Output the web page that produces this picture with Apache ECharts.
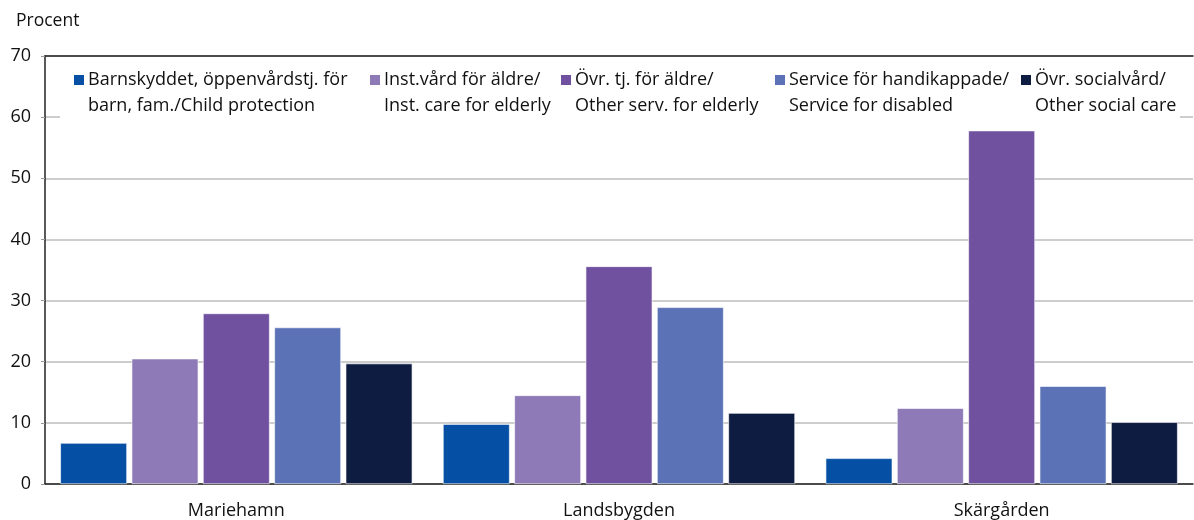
<!DOCTYPE html>
<html>
<head>
<meta charset="utf-8">
<script src="https://cdn.jsdelivr.net/npm/echarts@6/dist/echarts.min.js"></script>
<style>
  html, body { margin: 0; padding: 0; background: #fff; }
  #chart { width: 1194px; height: 520px; }
</style>
</head>
<body>
<div id="chart"></div>
<script>
  // data
  const categories = ['Mariehamn', 'Landsbygden', 'Skärgården']
  const seriesNames = [
    'Barnskyddet, öppenvårdstj. för\nbarn, fam./Child protection',
    'Inst.vård för äldre/\nInst. care for elderly',
    'Övr. tj. för äldre/\nOther serv. for elderly',
    'Service för handikappade/\nService for disabled',
    'Övr. socialvård/\nOther social care'
  ]
  const childProtection = [6.7, 9.8, 4.2]
  const instCareElderly = [20.5, 14.5, 12.4]
  const otherServElderly = [27.9, 35.6, 57.8]
  const serviceDisabled = [25.6, 28.9, 16.0]
  const otherSocialCare = [19.7, 11.6, 10.1]
  const yTicks = [0, 10, 20, 30, 40, 50, 60, 70]

  const values = [childProtection, instCareElderly, otherServElderly, serviceDisabled, otherSocialCare]
  const colors = ['#054FA4', '#8E7AB6', '#7051A0', '#5B73B6', '#0F1C41']
  const legendLeft = [72, 368, 559, 773, 1019]
  const font = '"Open Sans", sans-serif'

  const chart = echarts.init(document.getElementById('chart'))

  const series = values.map((data, i) => ({
    name: seriesNames[i],
    type: 'bar',
    data: data,
    barGap: '7%',
    barCategoryGap: '8%',
    itemStyle: { color: colors[i], borderColor: '#fff', borderWidth: 0.6 }
  }))

  // empty first line so the icon sits level with the first text line
  const legends = seriesNames.map((name, i) => ({
    data: [name],
    left: legendLeft[i],
    top: 41,
    padding: 0,
    z: 10,
    icon: 'rect',
    itemWidth: 12,
    itemHeight: 12,
    selectedMode: false,
    formatter: n => '\n' + n,
    textStyle: {
      fontFamily: font,
      fontSize: 18,
      color: '#111',
      lineHeight: 26,
      padding: [0, 0, 0, -2]
    }
  }))

  chart.setOption({
    animation: false,
    title: {
      text: 'Procent',
      left: 11,
      top: 7,
      textStyle: { fontFamily: font, fontSize: 17.5, fontWeight: 'normal', color: '#111' }
    },
    legend: legends,
    graphic: [{
      type: 'rect',
      z: 5,
      shape: { x: 60, y: 61, width: 1120, height: 61 },
      style: { fill: '#fff' }
    }],
    grid: { left: 45, right: 1, top: 56, bottom: 35 },
    xAxis: [{
      type: 'category',
      data: categories,
      axisLine: { lineStyle: { color: '#222', width: 1.5 } },
      axisTick: { show: false },
      axisLabel: { fontFamily: font, fontSize: 18, color: '#111', margin: 18 }
    }, {
      type: 'category',
      position: 'top',
      data: categories,
      axisLine: { lineStyle: { color: '#222', width: 1.5 } },
      axisTick: { show: false },
      axisLabel: { show: false }
    }],
    yAxis: {
      type: 'value',
      min: yTicks[0],
      max: yTicks[yTicks.length - 1],
      interval: 10,
      axisLine: { show: true, lineStyle: { color: '#222', width: 1.5 } },
      axisTick: { show: true, inside: false, length: 4, lineStyle: { color: '#999' } },
      axisLabel: { fontFamily: font, fontSize: 18, color: '#111', margin: 14 },
      splitLine: { lineStyle: { color: '#BDBDBD', width: 1.5 } }
    },
    series
  })
</script>
</body>
</html>
